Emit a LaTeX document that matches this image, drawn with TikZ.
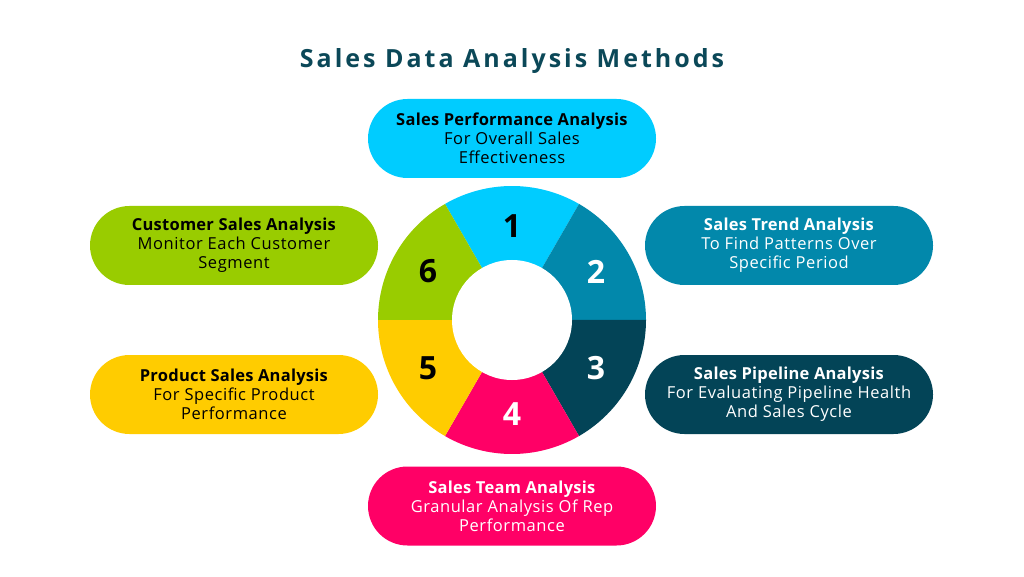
\documentclass[tikz,border=0pt]{standalone}
\usepackage{fontspec}
\setmainfont{Open Sans}[LetterSpace=3.5, BoldFeatures={LetterSpace=1.5}]
\newfontfamily\titlefont{Open Sans}[LetterSpace=12]
\newfontfamily\numfont{Open Sans}
\definecolor{cA}{HTML}{00CCFF}
\definecolor{cB}{HTML}{0288AB}
\definecolor{cC}{HTML}{034457}
\definecolor{cD}{HTML}{FF0066}
\definecolor{cE}{HTML}{FFCC00}
\definecolor{cF}{HTML}{99CC00}
\definecolor{titlec}{HTML}{0B4858}
\begin{document}
\begin{tikzpicture}[x=1pt,y=1pt,
  pill/.style={rectangle, rounded corners=39.5pt, minimum width=288pt, minimum height=79pt,
    inner sep=0pt, align=center, font=\fontsize{16.5}{19}\selectfont},
  num/.style={font=\numfont\fontsize{32}{32}\selectfont\bfseries}]
\useasboundingbox (0,0) rectangle (1024,576);
\fill[white] (0,0) rectangle (1024,576);
\node[font=\titlefont\fontsize{25}{28}\selectfont\bfseries, text=titlec] (title) at (512,515) {Sales Data Analysis Methods};
% ring
\coordinate (c) at (512,256);
\foreach \a/\col in {60/cA,0/cB,-60/cC,240/cD,180/cE,120/cF}{
  \fill[\col] (c) -- ([shift={(\a:134)}]c) arc[start angle=\a, delta angle=60, radius=134] -- cycle;
}
\fill[white] (c) circle[radius=60];
\node[num, text=black] (n1) at ([shift={(90:94)}]c) {1};
\node[num, text=white] (n2) at ([shift={(30:97)}]c) {2};
\node[num, text=white] (n3) at ([shift={(-30:97)}]c) {3};
\node[num, text=white] (n4) at ([shift={(-90:94)}]c) {4};
\node[num, text=black] (n5) at ([shift={(210:97)}]c) {5};
\node[num, text=black] (n6) at ([shift={(150:97)}]c) {6};
% pills
\node[pill, fill=cA, text=black] (p1) at (512,437.5) {\textbf{Sales Performance Analysis}\\For Overall Sales\\Effectiveness};
\node[pill, fill=cB, text=white] (p2) at (789,330.5) {\textbf{Sales Trend Analysis}\\To Find Patterns Over\\Specific Period};
\node[pill, fill=cC, text=white] (p3) at (789,181.5) {\textbf{Sales Pipeline Analysis}\\For Evaluating Pipeline Health\\And Sales Cycle};
\node[pill, fill=cD, text=white] (p4) at (512,70) {\textbf{Sales Team Analysis}\\Granular Analysis Of Rep\\Performance};
\node[pill, fill=cE, text=black] (p5) at (234,181.5) {\textbf{Product Sales Analysis}\\For Specific Product\\Performance};
\node[pill, fill=cF, text=black] (p6) at (234,330.5) {\textbf{Customer Sales Analysis}\\Monitor Each Customer\\Segment};
\end{tikzpicture}
\end{document}
